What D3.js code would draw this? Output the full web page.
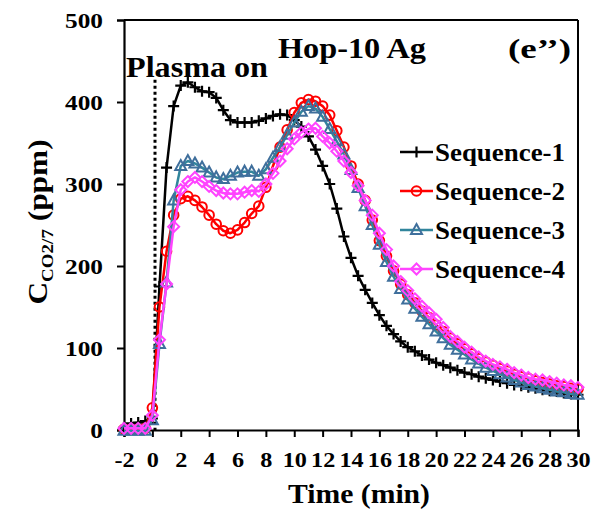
<!DOCTYPE html>
<html><head><meta charset="utf-8">
<script src="https://cdn.jsdelivr.net/npm/d3@7"></script>
<style>
html,body{margin:0;padding:0;background:#fff;}
svg text{font-family:"Liberation Serif","Times New Roman",serif;font-weight:bold;fill:#000;}
</style></head>
<body>
<svg id="chart" width="595" height="513"></svg>
<script>
const times = [-2,-1.5,-1,-0.5,0,0.5,1,1.5,2,2.5,3,3.5,4,4.5,5,5.5,6,6.5,7,7.5,8,8.5,9,9.5,10,10.5,11,11.5,12,12.5,13,13.5,14,14.5,15,15.5,16,16.5,17,17.5,18,18.5,19,19.5,20,20.5,21,21.5,22,22.5,23,23.5,24,24.5,25,25.5,26,26.5,27,27.5,28,28.5,29,29.5,30];
const seq1 = [3,8,9,11,14, 175,320,395,420,424, 418,413,412,405,390, 378,375,375,375,377, 380,383,385,384,378, 370,358,342,322,300, 270,236,210,188,171, 155,140,127,117,108, 101,96,91,86,82, 79,76,73,70,68, 65,63,61,59,57, 55,54,52,51,49, 48,47,45,44,43];
const seq2 = [1,1,1,2,27, 150,218,262,282,285, 280,272,262,251,243, 240,244,253,264,273, 296,322,345,366,387, 399,403,401,395,384, 365,345,322,300,280, 256,231,212,194,178, 165,155,145,137,128, 120,112,105,99,93, 87,83,79,75,72, 68,65,63,60,58, 56,54,53,51,50];
const seq3 = [-1,-1,-1,-1,12, 105,180,280,322,328, 325,320,314,308,306, 310,314,315,315,310, 318,332,345,360,375, 388,395,392,382,367, 352,336,317,295,273, 250,226,205,187,172, 159,148,138,129,120, 112,104,98,92,86, 81,76,72,68,64, 61,58,55,53,51, 49,47,46,44,43];
const seq4 = [2,2,2,2,18, 110,178,248,293,303, 308,303,297,292,289, 288,288,290,292,291, 300,313,328,343,355, 363,367,368,358,350, 340,328,314,298,280, 262,240,220,200,181, 170,160,151,143,135, 125,114,108,101,95, 89,84,80,77,74, 70,67,64,62,61, 59,57,55,54,52];
const seriesNames = ["Sequence-1","Sequence-2","Sequence-3","Sequence-4"];
const xTicks = [-2,0,2,4,6,8,10,12,14,16,18,20,22,24,26,28,30];
const yTicks = [0,100,200,300,400,500];

const styles = [
  {line:"#000000", mark:"#000000", shape:"plus", lw:2.5},
  {line:"#ff0000", mark:"#ff0000", shape:"circle", lw:2.5},
  {line:"#31859c", mark:"#3f6f9c", shape:"triangle", lw:2.5},
  {line:"#ff44ff", mark:"#ff44ff", shape:"diamond", lw:2.5}
];
const allSeries = [seq1,seq2,seq3,seq4];

const svg = d3.select("#chart");
const x = d3.scaleLinear().domain([-2,30]).range([124,578]);
const y = d3.scaleLinear().domain([0,500]).range([430,20]);
const SX = 1.15; // horizontal stretch of tick labels

// frame (top & right)
svg.append("line").attr("x1",124).attr("x2",578).attr("y1",y(500)).attr("y2",y(500)).attr("stroke","#000").attr("stroke-width",2);
svg.append("line").attr("x1",578).attr("x2",578).attr("y1",y(500)).attr("y2",y(0)).attr("stroke","#000").attr("stroke-width",2);

// axes
const yAxis = svg.append("g").attr("transform","translate(124,0)")
  .call(d3.axisLeft(y).tickValues(yTicks).tickSize(7).tickPadding(13).tickFormat(d3.format("d")));
const xAxis = svg.append("g").attr("transform",`translate(0,${y(0)})`)
  .call(d3.axisBottom(x).tickValues(xTicks).tickSize(7).tickPadding(14).tickFormat(d3.format("d")));
[yAxis,xAxis].forEach(g=>{
  g.select(".domain").attr("stroke","#000").attr("stroke-width",2.2);
  g.selectAll(".tick line").attr("stroke","#000").attr("stroke-width",2);
  g.selectAll(".tick text").style("font-size","22px").style("font-family","'Liberation Serif','Times New Roman',serif").style("font-weight","bold").attr("fill","#000");
});
yAxis.selectAll(".tick text").attr("dy","0.36em").attr("x",-21/SX).attr("transform",`scale(${SX},1)`);
xAxis.selectAll(".tick text").text(d=>d<0?"-"+Math.abs(d):d).attr("transform",`scale(1.1,1)`);

// Plasma on dotted line
svg.append("line").attr("x1",155).attr("x2",155).attr("y1",y(427)).attr("y2",y(0))
  .attr("stroke","#000").attr("stroke-width",3).attr("stroke-dasharray","3,3");

function markerPath(shape){
  if(shape==="plus") return "M-5.5,0H5.5M0,-5.5V5.5";
  if(shape==="triangle") return "M0,-6L5.5,4L-5.5,4Z";
  if(shape==="diamond") return "M0,-5.5L5.5,0L0,5.5L-5.5,0Z";
  return null;
}
function drawMarker(g, shape, color, cx, cy){
  if(shape==="circle"){
    g.append("circle").attr("cx",cx).attr("cy",cy).attr("r",4.8)
      .attr("fill","none").attr("stroke",color).attr("stroke-width",2);
  } else {
    g.append("path").attr("d",markerPath(shape)).attr("transform",`translate(${cx},${cy})`)
      .attr("fill","none").attr("stroke",color).attr("stroke-width", shape==="plus"?2.2:2);
  }
}

const lineGen = d3.line().x(d=>x(d[0])).y(d=>y(d[1]));
allSeries.forEach((vals,i)=>{
  const st = styles[i];
  const data = times.map((t,j)=>[t,vals[j]]);
  const g = svg.append("g");
  g.append("path").datum(data).attr("d",lineGen).attr("fill","none")
    .attr("stroke",st.line).attr("stroke-width",st.lw).attr("stroke-linejoin","round");
  data.forEach(d=>drawMarker(g, st.shape, st.mark, x(d[0]), y(d[1])));
});

function fitText(xp, yp, size, len, str){
  return svg.append("text").attr("x",xp).attr("y",yp).style("font-size",size+"px")
    .attr("textLength",len).attr("lengthAdjust","spacingAndGlyphs").text(str);
}

// legend
const legY = [152,191,230,269];
seriesNames.forEach((name,i)=>{
  const st = styles[i];
  const g = svg.append("g");
  g.append("line").attr("x1",400).attr("x2",433).attr("y1",legY[i]).attr("y2",legY[i])
    .attr("stroke",st.line).attr("stroke-width",2.5);
  drawMarker(g, st.shape, st.mark, 416.5, legY[i]);
  fitText(435, legY[i]+8.5, 25, 130, name);
});

// annotations
fitText(278, 58, 29, 148, "Hop-10 Ag");
fitText(508, 58, 27, 63, "(e’’)");
fitText(126, 77, 29, 142, "Plasma on");

// axis titles
fitText(288, 503, 28, 142, "Time (min)");
const yt = svg.append("text").attr("transform",`translate(47,222) rotate(-90) scale(1.12,1)`).attr("text-anchor","middle").style("font-size","28px");
yt.append("tspan").text("C");
yt.append("tspan").attr("dy",6).style("font-size","17px").text("CO2/7");
yt.append("tspan").attr("dy",-6).text(" (ppm)");
</script>
</body></html>
